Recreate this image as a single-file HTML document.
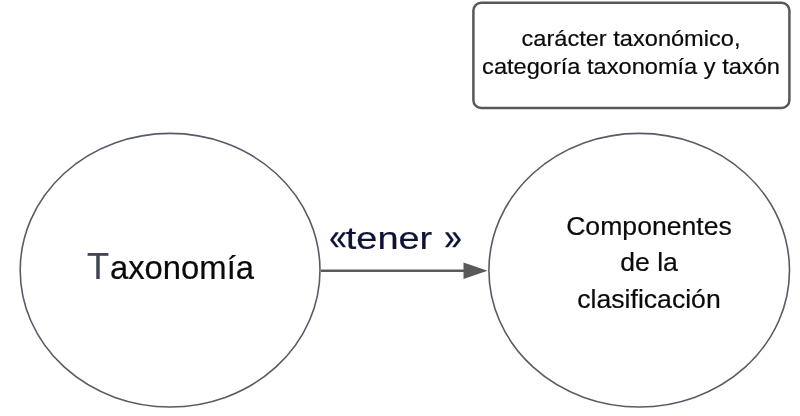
<!DOCTYPE html>
<html><head><meta charset="utf-8">
<style>
html,body{margin:0;padding:0;background:#fff;}
body{width:800px;height:416px;overflow:hidden;position:relative;font-family:"Liberation Sans",sans-serif;}
svg{position:absolute;left:0;top:0;filter:blur(0.35px);}
.t{filter:blur(0.45px);position:absolute;white-space:nowrap;text-align:center;color:#0a0a0a;-webkit-text-stroke:0.2px #0a0a0a;transform-origin:50% 50%;}
</style></head><body>
<svg width="800" height="416" viewBox="0 0 800 416">
<rect x="473.4" y="2.8" width="316" height="105.2" rx="7.8" ry="7.8" fill="#fff" stroke="#585858" stroke-width="2.5"/>
<ellipse cx="170.1" cy="270.2" rx="149.9" ry="136.8" fill="#fff" stroke="#575b68" stroke-width="1.6"/>
<ellipse cx="639.2" cy="270.2" rx="150.3" ry="136.8" fill="#fff" stroke="#575b68" stroke-width="1.6"/>
<line x1="321" y1="270.7" x2="466" y2="270.7" stroke="#5a5a5a" stroke-width="2.4"/>
<polygon points="463.5,262.4 487.6,270.7 463.5,279" fill="#5a5a5a"/>
</svg>
<div class="t" id="t1" style="left:431px;width:400px;top:25.4px;font-size:21.3px;line-height:28px;transform:scaleX(1.108);">carácter taxonómico,<br>categoría taxonomía y taxón</div>
<div class="t" id="t2a" style="left:47.9px;width:100px;top:249.3px;font-size:36px;line-height:36px;color:#414656;-webkit-text-stroke:0.2px #414656;transform:scaleX(1.0);">T</div>
<div class="t" id="t2" style="left:81.8px;width:200px;top:249.5px;font-size:32.5px;line-height:36px;transform:scaleX(1.01);">axonomía</div>
<div class="t" id="t3a" style="left:287.9px;width:100px;top:218.6px;font-size:37.8px;line-height:36px;color:#0e1336;-webkit-text-stroke:0.35px #0e1336;transform:scaleX(0.833);">«</div>
<div class="t" id="t3" style="left:288.8px;width:200px;top:220.1px;font-size:31.5px;line-height:36px;color:#0e1336;-webkit-text-stroke:0.2px #0e1336;transform:scaleX(1.205);">tener</div>
<div class="t" id="t3b" style="left:403.0px;width:100px;top:218.6px;font-size:37.8px;line-height:36px;color:#0e1336;-webkit-text-stroke:0.35px #0e1336;transform:scaleX(0.833);">»</div>
<div class="t" id="t4" style="left:499.4px;width:300px;top:207.6px;font-size:25.3px;line-height:36.7px;transform:scaleX(1.052);">Componentes<br>de la<br>clasificación</div>
</body></html>
